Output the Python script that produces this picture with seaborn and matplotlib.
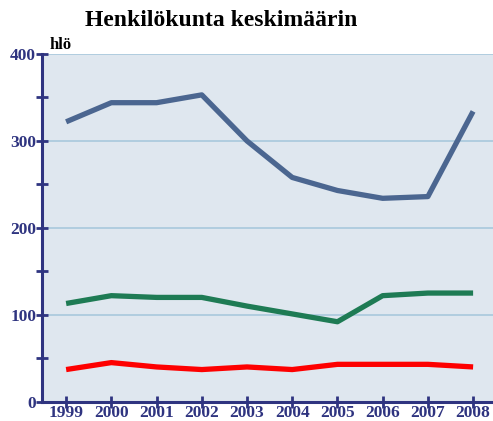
import pandas as pd
import matplotlib.pyplot as plt
import seaborn as sns
from matplotlib.ticker import MultipleLocator

# --- DATA ---
years = [1999, 2000, 2001, 2002, 2003, 2004, 2005, 2006, 2007, 2008]
series_blue = [322, 344, 344, 353, 300, 258, 243, 234, 236, 334]
series_green = [113, 122, 120, 120, 110, 101, 92, 122, 125, 125]
series_red = [37, 45, 40, 37, 40, 37, 43, 43, 43, 40]

TITLE = "Henkilökunta keskimäärin"
UNIT = "hlö"
NAVY = "#2f3480"


def plot():
    sns.set_theme(style="white")
    plt.rcParams['font.family'] = ['Liberation Serif', 'DejaVu Serif']

    fig = plt.figure(figsize=(4.93, 4.21), dpi=100)
    ax = fig.add_axes([0.0846, 0.0458, 0.9154, 0.8259])
    ax.set_facecolor("#dfe7ef")

    df = pd.DataFrame({"year": years, "blue": series_blue,
                       "green": series_green, "red": series_red})
    for col, color in [("blue", "#4b6690"), ("green", "#1e7b54"), ("red", "#fe0000")]:
        sns.lineplot(data=df, x="year", y=col, ax=ax, color=color,
                     linewidth=3.8, solid_capstyle="butt")

    ax.set_xlim(1998.46, 2008.44)
    ax.set_ylim(0, 400)
    ax.set_xticks(years)
    ax.set_xticklabels([str(y) for y in years])
    ax.yaxis.set_major_locator(MultipleLocator(100))
    ax.yaxis.set_minor_locator(MultipleLocator(50))
    ax.grid(axis="y", which="major", color="#a8c8dc", linewidth=1.2)
    ax.set_axisbelow(True)
    ax.set_xlabel("")
    ax.set_ylabel("")

    for s in ["top", "right"]:
        ax.spines[s].set_visible(False)
    for s in ["left", "bottom"]:
        ax.spines[s].set_color(NAVY)
        ax.spines[s].set_linewidth(2.2)

    ax.tick_params(axis="both", which="both", bottom=True, left=True,
                   direction="inout", length=8, width=2, color=NAVY,
                   labelcolor=NAVY, labelsize=12.5)
    ax.tick_params(axis="y", pad=0)
    ax.tick_params(axis="x", pad=-1.5)
    for lbl in ax.get_xticklabels() + ax.get_yticklabels():
        lbl.set_fontweight("bold")

    fig.text(0.448, 0.952, TITLE, ha="center", va="center",
             fontsize=17, fontweight="bold", color="black")
    fig.text(0.101, 0.894, UNIT, ha="left", va="center",
             fontsize=12, fontweight="bold", color="black")

    fig.savefig("out.png", dpi=100)
    plt.close(fig)


if __name__ == "__main__":
    plot()
